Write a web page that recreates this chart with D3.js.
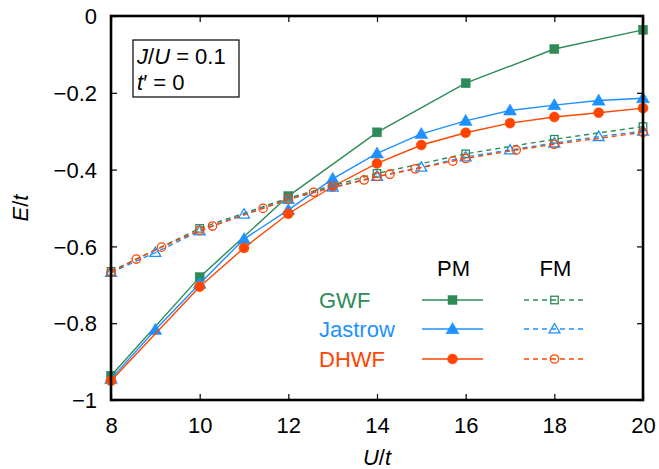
<!DOCTYPE html>
<html>
<head>
<meta charset="utf-8">
<script src="https://cdn.jsdelivr.net/npm/d3@7"></script>
<style>
  html, body { margin: 0; padding: 0; background: #fff; }
  svg { display: block; }
  text { font-family: "Liberation Sans", Arial, Helvetica, sans-serif; }
</style>
</head>
<body>
<svg id="chart" width="659" height="469"></svg>
<script>
// ---------- data ----------
const xTicks = [8, 10, 12, 14, 16, 18, 20];
const yTicks = [0, -0.2, -0.4, -0.6, -0.8, -1];
const yTickLabels = ["0", "\u22120.2", "\u22120.4", "\u22120.6", "\u22120.8", "\u22121"];

const gwfPM_U = [8, 10, 12, 14, 16, 18, 20];
const gwfPM_E = [-0.937, -0.680, -0.469, -0.303, -0.175, -0.086, -0.036];

const jasPM_U = [8, 9, 10, 11, 12, 13, 14, 15, 16, 17, 18, 19, 20];
const jasPM_E = [-0.945, -0.817, -0.697, -0.581, -0.505, -0.424, -0.358, -0.307, -0.273, -0.246, -0.232, -0.220, -0.214];

const dhPM_U = [8, 10, 11, 12, 13, 14, 15, 16, 17, 18, 19, 20];
const dhPM_E = [-0.950, -0.705, -0.604, -0.515, -0.444, -0.384, -0.336, -0.304, -0.279, -0.263, -0.252, -0.240];

const gwfFM_U = [8, 10, 12, 14, 16, 18, 20];
const gwfFM_E = [-0.665, -0.553, -0.474, -0.410, -0.359, -0.321, -0.288];

const jasFM_U = [8, 9, 10, 11, 12, 13, 14, 15, 16, 17, 18, 19, 20];
const jasFM_E = [-0.668, -0.616, -0.560, -0.516, -0.478, -0.446, -0.418, -0.394, -0.367, -0.349, -0.331, -0.314, -0.300];

const dhFM_U = [8, 8.57, 9.14, 10, 10.29, 11.43, 12, 12.57, 13.71, 14, 14.29, 14.86, 15.71, 16, 17.14, 18, 20];
const dhFM_E = [-0.668, -0.633, -0.602, -0.558, -0.547, -0.501, -0.477, -0.459, -0.427, -0.418, -0.412, -0.398, -0.378, -0.371, -0.349, -0.334, -0.303];

const methods = ["GWF", "Jastrow", "DHWF"];
const phases = ["PM", "FM"];
const colors = { GWF: "#2e8b57", Jastrow: "#1e90ff", DHWF: "#ff4500" };
const shapes = { GWF: "square", Jastrow: "triangle", DHWF: "circle" };

const series = [
  { m: "GWF", p: "PM", U: gwfPM_U, E: gwfPM_E },
  { m: "Jastrow", p: "PM", U: jasPM_U, E: jasPM_E },
  { m: "DHWF", p: "PM", U: dhPM_U, E: dhPM_E },
  { m: "GWF", p: "FM", U: gwfFM_U, E: gwfFM_E },
  { m: "Jastrow", p: "FM", U: jasFM_U, E: jasFM_E },
  { m: "DHWF", p: "FM", U: dhFM_U, E: dhFM_E }
];

// ---------- layout ----------
const svg = d3.select("#chart");
const L = 111, R = 643, T = 16, B = 400;
const FS = 22;
const x = d3.scaleLinear().domain([8, 20]).range([L, R]);
const y = d3.scaleLinear().domain([-1, 0]).range([B, T]);

svg.append("rect").attr("width", 659).attr("height", 469).attr("fill", "#fff");

// ---------- marker drawing ----------
function drawMarker(g, shape, cx, cy, color, filled) {
  if (shape === "square") {
    const s = filled ? 9 : 7.5;
    g.append("rect").attr("x", cx - s / 2).attr("y", cy - s / 2).attr("width", s).attr("height", s)
      .attr("fill", filled ? color : "none").attr("stroke", color).attr("stroke-width", filled ? 0.5 : 1.3);
  } else if (shape === "triangle") {
    const s = filled ? 6.2 : 5.2;
    const pts = [[cx, cy - s * 1.05], [cx + s * 1.05, cy + s * 0.75], [cx - s * 1.05, cy + s * 0.75]];
    g.append("polygon").attr("points", pts.map(p => p.join(",")).join(" "))
      .attr("fill", filled ? color : "none").attr("stroke", color).attr("stroke-width", filled ? 0.5 : 1.3);
  } else {
    const r = filled ? 5 : 4.2;
    g.append("circle").attr("cx", cx).attr("cy", cy).attr("r", r)
      .attr("fill", filled ? color : "none").attr("stroke", color).attr("stroke-width", filled ? 0.5 : 1.3);
  }
}

// ---------- series ----------
const line = d3.line().x(d => x(d[0])).y(d => y(d[1]));
const plot = svg.append("g");
series.forEach(s => {
  const pts = s.U.map((u, i) => [u, s.E[i]]);
  plot.append("path").attr("d", line(pts)).attr("fill", "none")
    .attr("stroke", colors[s.m]).attr("stroke-width", 1.4)
    .attr("stroke-dasharray", s.p === "FM" ? "5,4" : null);
  const mg = plot.append("g");
  pts.forEach(p => drawMarker(mg, shapes[s.m], x(p[0]), y(p[1]), colors[s.m], s.p === "PM"));
});

// ---------- axes (gnuplot-style inward ticks, mirrored) ----------
const axBottom = svg.append("g").attr("transform", `translate(0,${B})`)
  .call(d3.axisBottom(x).tickValues(xTicks).tickSizeInner(-6).tickSizeOuter(0).tickPadding(17).tickFormat(d3.format("d")));
const axTop = svg.append("g").attr("transform", `translate(0,${T})`)
  .call(d3.axisTop(x).tickValues(xTicks).tickSizeInner(-6).tickSizeOuter(0).tickFormat(""));
const axLeft = svg.append("g").attr("transform", `translate(${L},0)`)
  .call(d3.axisLeft(y).tickValues(yTicks).tickSizeInner(-6).tickSizeOuter(0).tickPadding(14)
    .tickFormat((d, i) => yTickLabels[i]));
const axRight = svg.append("g").attr("transform", `translate(${R},0)`)
  .call(d3.axisRight(y).tickValues(yTicks).tickSizeInner(-6).tickSizeOuter(0).tickFormat(""));

[axBottom, axTop, axLeft, axRight].forEach(a => {
  a.select(".domain").remove();
  a.selectAll(".tick line").attr("stroke", "#000").attr("stroke-width", 1.2);
  a.selectAll(".tick text").attr("fill", "#000").attr("font-size", FS)
    .attr("font-family", "'Liberation Sans', Arial, Helvetica, sans-serif");
});
axLeft.selectAll(".tick text").attr("dy", "0.35em");

// frame
svg.append("rect").attr("x", L).attr("y", T).attr("width", R - L).attr("height", B - T)
  .attr("fill", "none").attr("stroke", "#000").attr("stroke-width", 2.6);

// axis titles
const xt = svg.append("text").attr("x", (L + R) / 2).attr("y", 465).attr("text-anchor", "middle")
  .attr("font-size", FS).attr("font-style", "italic");
xt.append("tspan").text("U");
xt.append("tspan").attr("font-style", "normal").text("/");
xt.append("tspan").text("t");

const yt = svg.append("text").attr("transform", `translate(28,${(T + B) / 2}) rotate(-90)`)
  .attr("text-anchor", "middle").attr("font-size", FS).attr("font-style", "italic");
yt.append("tspan").text("E");
yt.append("tspan").attr("font-style", "normal").text("/");
yt.append("tspan").text("t");

// annotation box
svg.append("rect").attr("x", 133).attr("y", 40).attr("width", 106).attr("height", 57)
  .attr("fill", "#fff").attr("stroke", "#000").attr("stroke-width", 1.2);
const a1 = svg.append("text").attr("x", 137).attr("y", 64).attr("font-size", FS);
a1.append("tspan").attr("font-style", "italic").text("J");
a1.append("tspan").text("/");
a1.append("tspan").attr("font-style", "italic").text("U");
a1.append("tspan").text(" = 0.1");
const a2 = svg.append("text").attr("x", 137).attr("y", 90).attr("font-size", FS);
a2.append("tspan").attr("font-style", "italic").text("t");
a2.append("tspan").text("\u2032 = 0");

// legend
const legX = { PM: [422, 483], FM: [524, 585] };
const legRowY = { GWF: 300, Jastrow: 329, DHWF: 359 };
phases.forEach(p => {
  svg.append("text").attr("x", (legX[p][0] + legX[p][1]) / 2 + 1).attr("y", 276)
    .attr("text-anchor", "middle").attr("font-size", FS).attr("fill", "#000").text(p);
});
methods.forEach(m => {
  const ly = legRowY[m];
  svg.append("text").attr("x", 319).attr("y", ly + 8).attr("font-size", FS)
    .attr("fill", colors[m]).text(m);
  phases.forEach(p => {
    const [x0, x1] = legX[p];
    svg.append("line").attr("x1", x0).attr("x2", x1).attr("y1", ly).attr("y2", ly)
      .attr("stroke", colors[m]).attr("stroke-width", 1.4)
      .attr("stroke-dasharray", p === "FM" ? "5,4" : null);
    const g = svg.append("g");
    drawMarker(g, shapes[m], (x0 + x1) / 2, ly, colors[m], p === "PM");
  });
});
</script>
</body>
</html>
